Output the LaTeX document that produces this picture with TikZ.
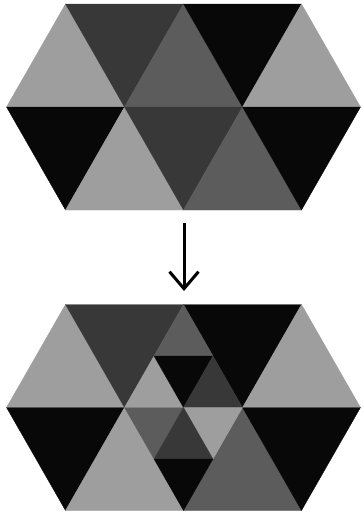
\documentclass[tikz,border=0pt]{standalone}
\usepackage{tikz}
\usetikzlibrary{arrows.meta}

\definecolor{lgray}{gray}{0.62}
\definecolor{mgray}{gray}{0.36}
\definecolor{dgray}{gray}{0.22}
\definecolor{blk}{gray}{0.03}

\begin{document}
\begin{tikzpicture}[x=1pt,y=-1pt]
    % Canvas in pixels of the 362x517 reference, y pointing down.
    \useasboundingbox (0,0) rectangle (362,517);

    % Triangle lattice: x step is half a side, y step is one row.
    % Each entry: apex x / apex y / dir (1 = pointing up, -1 = down) / size / colour.
    \begin{scope}[shift={(6.5,4)}, x=59pt, y=-103pt]
      \foreach \x/\y/\dir/\sz/\col in {1/0/1/1/lgray, 2/1/-1/1/dgray, 3/0/1/1/mgray,
          4/1/-1/1/blk, 5/0/1/1/lgray, 1/2/-1/1/blk, 2/1/1/1/lgray,
          3/2/-1/1/dgray, 4/1/1/1/mgray, 5/2/-1/1/blk} {
        \filldraw[fill=\col, draw=\col, line width=0.3pt, line join=round]
          (\x,\y) -- ({\x-\sz},{\y+\dir*\sz}) -- ({\x+\sz},{\y+\dir*\sz}) -- cycle;
      }
    \end{scope}

    % Same tiling, the two middle triangles split in four.
    \begin{scope}[shift={(6.5,304.5)}, x=59pt, y=-103pt]
      \foreach \x/\y/\dir/\sz/\col in {1/0/1/1/lgray, 2/1/-1/1/dgray,
          4/1/-1/1/blk, 5/0/1/1/lgray, 1/2/-1/1/blk, 2/1/1/1/lgray,
          4/1/1/1/mgray, 5/2/-1/1/blk,
          3/0/1/.5/mgray, 2.5/.5/1/.5/lgray, 3/1/-1/.5/blk, 3.5/.5/1/.5/dgray,
          2.5/1.5/-1/.5/mgray, 3.5/1.5/-1/.5/lgray, 3/1/1/.5/dgray, 3/2/-1/.5/blk} {
        \filldraw[fill=\col, draw=\col, line width=0.3pt, line join=round]
          (\x,\y) -- ({\x-\sz},{\y+\dir*\sz}) -- ({\x+\sz},{\y+\dir*\sz}) -- cycle;
      }
    \end{scope}

    \coordinate (arrow-start) at (184,223);
    \coordinate (arrow-end) at (184,291);
    \draw[-{Straight Barb[length=17pt, width=29pt]}, line width=3pt, black]
      (arrow-start) -- (arrow-end);
\end{tikzpicture}
\end{document}
